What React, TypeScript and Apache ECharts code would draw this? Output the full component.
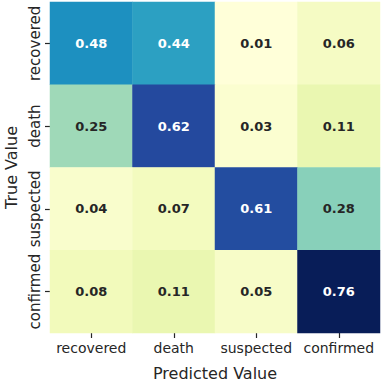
import React, { useEffect, useRef } from "react";
import * as echarts from "echarts";

const predicted = ["recovered", "death", "suspected", "confirmed"];
const actual = ["recovered", "death", "suspected", "confirmed"];
// rows = true value, cols = predicted value
const matrix = [
  [0.48, 0.44, 0.01, 0.06],
  [0.25, 0.62, 0.03, 0.11],
  [0.04, 0.07, 0.61, 0.28],
  [0.08, 0.11, 0.05, 0.76],
];
const ylgnbu = ["#ffffd9", "#edf8b1", "#c7e9b4", "#7fcdbb", "#41b6c4", "#1d91c0", "#225ea8", "#253494", "#081d58"];

export default function App() {
  const ref = useRef<HTMLDivElement>(null);
  useEffect(() => {
    const chart = echarts.init(ref.current!, null, { renderer: "svg" });
    const flat = matrix.flat();
    const vmin = Math.min(...flat);
    const vmax = Math.max(...flat);
    const data: any[] = [];
    matrix.forEach((row, r) =>
      row.forEach((v, c) => {
        data.push({
          value: [c, r, v],
          label: { color: v > 0.4 ? "#ffffff" : "#262626" },
        });
      })
    );
    chart.setOption({
      animation: false,
      textStyle: { fontFamily: "DejaVu Sans" },
      grid: { left: 50, right: 3, top: 2, bottom: 51, containLabel: false, outerBoundsMode: "none" },
      xAxis: {
        type: "category",
        data: predicted,
        name: "Predicted Value",
        nameLocation: "middle",
        nameGap: 32,
        nameTextStyle: { fontSize: 16, color: "#262626", fontFamily: "DejaVu Sans" },
        axisLine: { show: false },
        axisTick: { show: true, alignWithLabel: true, length: 5, lineStyle: { color: "#262626", width: 1.2 } },
        axisLabel: { fontSize: 14, color: "#262626", margin: 8, interval: 0 },
        splitLine: { show: false },
      },
      yAxis: {
        type: "category",
        data: actual,
        inverse: true,
        name: "True Value",
        nameLocation: "middle",
        nameGap: 30,
        nameRotate: 90,
        nameTextStyle: { fontSize: 16, color: "#262626", fontFamily: "DejaVu Sans" },
        axisLine: { show: false },
        axisTick: { show: true, alignWithLabel: true, length: 5, lineStyle: { color: "#262626", width: 1.2 } },
        axisLabel: { fontSize: 15, color: "#262626", margin: 8, rotate: 90, interval: 0 },
        splitLine: { show: false },
      },
      visualMap: {
        show: false,
        min: vmin,
        max: vmax,
        dimension: 2,
        inRange: { color: ylgnbu },
      },
      series: [
        {
          type: "heatmap",
          data,
          label: { show: true, fontSize: 13, fontWeight: "bold", formatter: (p: any) => p.value[2].toFixed(2) },
          itemStyle: { borderWidth: 0 },
        },
      ],
    });
    return () => chart.dispose();
  }, []);
  return <div ref={ref} style={{ width: 383, height: 384, position: "absolute", left: 0, top: 0 }} />;
}
